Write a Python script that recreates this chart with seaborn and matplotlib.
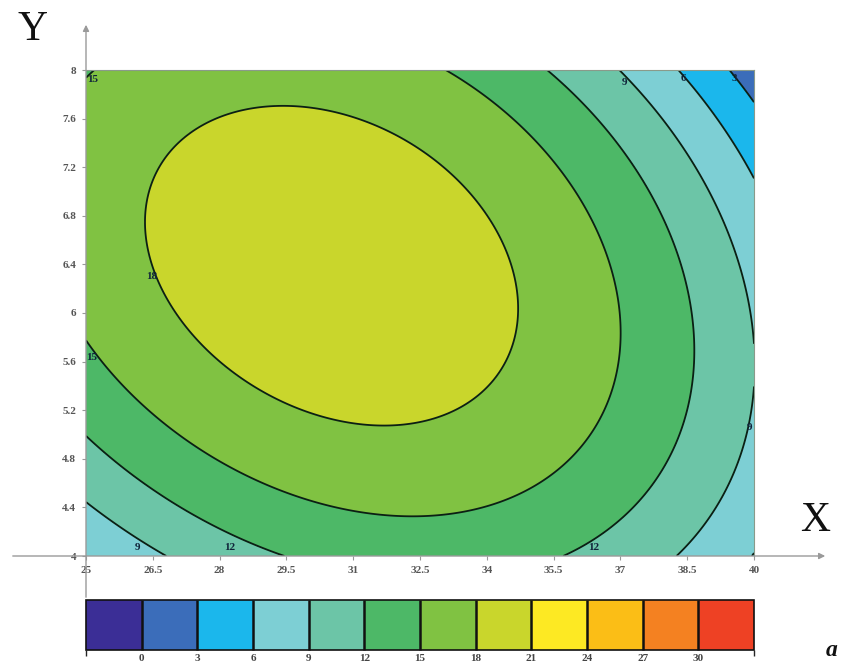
import numpy as np
import matplotlib
matplotlib.use("Agg")
import matplotlib.pyplot as plt
from matplotlib.colors import ListedColormap, BoundaryNorm
from matplotlib.patches import FancyArrowPatch
import seaborn as sns

# Traced iso-lines of the response (x, y) for each level
c18_x = [29.51, 27.85, 27.11, 26.59, 26.32, 26.32, 26.48, 26.73, 27.85, 29.36,
         30.86, 32.16, 32.95, 33.91, 34.52, 34.68, 34.45, 33.91, 33.17, 32.05]
c18_y = [7.728, 7.564, 7.399, 7.119, 6.848, 6.626, 6.329, 6.107, 5.695, 5.309,
         5.119, 5.037, 5.119, 5.342, 5.695, 6.107, 6.494, 6.848, 7.177, 7.449]
c15_x = [25.20, 25.00, 25.02, 26.37, 27.85, 29.36, 30.86, 32.34, 33.91, 35.19,
         36.25, 36.83, 36.95, 36.54, 35.80, 34.68, 33.11]
c15_y = [8.000, 7.877, 5.778, 5.284, 4.955, 4.626, 4.403, 4.313, 4.379, 4.568,
         4.955, 5.424, 6.107, 6.436, 6.988, 7.531, 8.000]
c12_x = [25.02, 26.37, 27.85, 29.06, 35.71, 36.83, 37.73, 38.41, 38.63, 38.63,
         38.41, 37.66, 36.54, 35.37]
c12_y = [4.979, 4.650, 4.354, 4.025, 4.000, 4.403, 4.815, 5.284, 5.835, 6.107,
         6.379, 6.848, 7.399, 8.000]
c9_x = [25.02, 25.76, 26.66, 38.27, 39.17, 39.84, 39.98, 39.98, 39.84, 39.17,
        38.05, 36.99]
c9_y = [4.420, 4.214, 4.000, 4.000, 4.461, 4.955, 5.284, 6.107, 6.379, 6.790,
        7.399, 8.000]
c6_x = [38.41, 39.17, 39.98]
c6_y = [8.000, 7.588, 7.152]
c3_x = [39.53, 39.98]
c3_y = [8.000, 7.811]
peak_xyz = [30.6, 6.35, 20.2]

x_range = [25, 40]
y_range = [4, 8]
x_ticks = [25, 26.5, 28, 29.5, 31, 32.5, 34, 35.5, 37, 38.5, 40]
y_ticks = [4, 4.4, 4.8, 5.2, 5.6, 6, 6.4, 6.8, 7.2, 7.6, 8]
x_tick_labels = ["25", "26.5", "28", "29.5", "31", "32.5", "34", "35.5", "37", "38.5", "40"]
y_tick_labels = ["4", "4.4", "4.8", "5.2", "5.6", "6", "6.4", "6.8", "7.2", "7.6", "8"]

fill_levels = [-3, 0, 3, 6, 9, 12, 15, 18, 21, 24, 27, 30, 33]
line_levels = [3, 6, 9, 12, 15, 18]
colorbar_ticks = [0, 3, 6, 9, 12, 15, 18, 21, 24, 27, 30]
band_colors = ["#3b2e96", "#3b6dba", "#1bb7ec", "#7dcfd4", "#6cc5a7", "#4db867",
               "#80c242", "#c9d62c", "#fde923", "#fbbe16", "#f48121", "#ee4124"]

label_points = [(25.16, 7.92), (25.13, 5.63), (26.48, 6.30), (37.10, 7.90),
                (38.41, 7.93), (39.57, 7.93), (26.15, 4.07), (39.91, 5.06),
                (28.23, 4.07), (36.41, 4.07)]

# ---- cubic response surface fitted to the traced iso-lines ----
px, py, pz, pw = [], [], [], []
for lev, xs, ys, wt in [(18, c18_x, c18_y, 5.0), (15, c15_x, c15_y, 1.0),
                        (12, c12_x, c12_y, 1.0), (9, c9_x, c9_y, 1.5),
                        (6, c6_x, c6_y, 1.0), (3, c3_x, c3_y, 1.0)]:
    px += xs
    py += ys
    pz += [lev] * len(xs)
    pw += [wt] * len(xs)
px.append(peak_xyz[0]); py.append(peak_xyz[1]); pz.append(peak_xyz[2]); pw.append(1.0)
px, py, pz, pw = map(np.asarray, (px, py, pz, pw))


def design(x, y):
    u = (x - 32.5) / 7.5
    v = (y - 6.0) / 2.0
    return np.stack([np.ones_like(u), u, v, u * u, v * v, u * v,
                     u ** 3, v ** 3, u * u * v, u * v * v], axis=-1)


coef, *_ = np.linalg.lstsq(design(px, py) * pw[:, None], pz * pw, rcond=None)

gx = np.linspace(x_range[0], x_range[1], 400)
gy = np.linspace(y_range[0], y_range[1], 400)
GX, GY = np.meshgrid(gx, gy)
Z = design(GX, GY) @ coef

sns.set_theme(style="white")
plt.rcParams["font.family"] = ["Liberation Serif", "DejaVu Serif"]

W, H = 844, 666
fig = plt.figure(figsize=(W / 100, H / 100), dpi=100)


def fx(p):
    return p / W


def fy(p):
    return 1 - p / H


ax = fig.add_axes([fx(86), fy(556), fx(754) - fx(86), fy(70) - fy(556)])

cmap = ListedColormap(sns.color_palette(band_colors))
norm = BoundaryNorm(fill_levels, cmap.N)
cf = ax.contourf(GX, GY, Z, levels=fill_levels, cmap=cmap, norm=norm)
cs = ax.contour(GX, GY, Z, levels=line_levels, colors="#0b1f14", linewidths=1.3)
labels = ax.clabel(cs, line_levels, manual=label_points, inline=False,
                   fontsize=8, fmt="%d", colors="#10233a")
for t, pos in zip(labels, label_points):
    t.set_rotation(0)
    t.set_position(pos)
    t.set_fontweight("bold")

ax.set_xlim(x_range)
ax.set_ylim(y_range)
ax.set_xticks(x_ticks)
ax.set_xticklabels(x_tick_labels)
ax.set_yticks(y_ticks)
ax.set_yticklabels(y_tick_labels)
ax.tick_params(axis="both", which="both", length=3, width=0.8, color="#999999",
               labelsize=8, labelcolor="#555555", pad=4, direction="out",
               bottom=True, left=True)
for lab in ax.get_xticklabels() + ax.get_yticklabels():
    lab.set_fontweight("bold")
for side in ["top", "right"]:
    ax.spines[side].set_visible(True)
    ax.spines[side].set_color("#8a9a8a")
    ax.spines[side].set_linewidth(0.8)
for side in ["bottom", "left"]:
    ax.spines[side].set_visible(False)

# Cartesian axis arrows
arrow_style = dict(arrowstyle="-|>", color="#9a9a9a", lw=1.0, mutation_scale=9)
fig.patches.append(FancyArrowPatch((fx(10), fy(556)), (fx(828), fy(556)),
                                   transform=fig.transFigure, **arrow_style))
fig.patches.append(FancyArrowPatch((fx(86), fy(600)), (fx(86), fy(22)),
                                   transform=fig.transFigure, **arrow_style))

fig.text(fx(32), fy(30), "Y", fontsize=30, ha="center", va="center", color="#111111")
fig.text(fx(815), fy(521), "X", fontsize=30, ha="center", va="center", color="#111111")
fig.text(fx(832), fy(651), "a", fontsize=17, ha="center", va="center",
         fontweight="bold", fontstyle="italic", color="#111111")

# colour scale
cax = fig.add_axes([fx(86), fy(650), fx(754) - fx(86), fy(600) - fy(650)])
cb = fig.colorbar(cf, cax=cax, orientation="horizontal", ticks=colorbar_ticks,
                  drawedges=True)
cb.outline.set_edgecolor("#111111")
cb.outline.set_linewidth(1.2)
cb.dividers.set_color("#111111")
cb.dividers.set_linewidth(1.8)
cb.ax.tick_params(length=0, labelsize=8, labelcolor="#444444", pad=3)
for lab in cb.ax.get_xticklabels():
    lab.set_fontweight("bold")

fig.savefig("out.png", dpi=100)
